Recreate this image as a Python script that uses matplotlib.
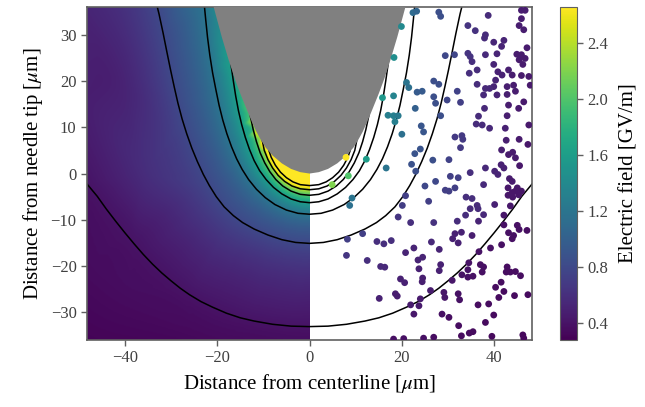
import numpy as np
import matplotlib.pyplot as plt
import matplotlib.tri as mtri

plt.rcParams['font.family'] = ['Liberation Serif', 'DejaVu Serif']
plt.rcParams['mathtext.fontset'] = 'stix'

# needle outline, right half (um)
needle_x = [0, 2, 4, 6, 8, 9.5, 10.5, 11.5, 12.5, 13.5, 15, 16.2, 17.5, 19, 20.9, 21.5]
needle_y = [0, 0.3, 1.0, 2.2, 3.9, 5.6, 7.2, 9.0, 11.2, 13.6, 17.3, 20.5, 24.5, 29.5, 36.5, 40]

# iso-field lines (right half, mirrored to the left), GV/m
levels = [2.8, 2.4, 2.0, 1.6, 1.2, 0.8, 0.4]
iso_x = [
    [0, 2, 3.6, 5.0, 6.3, 7.4, 8.3, 8.8],
    [0, 2, 3.8, 5.4, 6.8, 8.0, 9.0, 9.8, 10.4],
    [0, 2, 4, 5.8, 7.3, 8.6, 9.7, 10.7, 11.5, 12.2, 12.8, 13.2],
    [0, 2, 4, 6, 7.8, 9.4, 10.8, 12.0, 13.0, 13.9, 14.7, 15.4, 16.0, 16.5, 17.0, 17.3],
    [0, 2.5, 5, 7.5, 9.6, 11.5, 13.2, 14.6, 15.8, 16.9, 17.9, 18.8, 19.6, 20.3, 21.0, 21.6,
     22.1, 22.5, 22.8],
    [0, 3, 6, 9, 12, 14.5, 16.5, 18.5, 20.2, 21.7, 23, 24.3, 25.5, 26.6, 27.6, 28.5, 29.3,
     30.1, 30.9, 31.7, 32.6, 33.1],
    [0, 4, 8, 12, 15, 18, 21, 23.5, 26, 28, 30, 32, 34, 36, 38, 40, 42, 44, 46, 48.5],
]
iso_y = [
    [-2.6, -2.4, -1.8, -0.9, 0.3, 1.8, 3.5, 5.0],
    [-3.5, -3.3, -2.7, -1.7, -0.4, 1.2, 3.0, 5.0, 8.0],
    [-4.7, -4.5, -3.8, -2.7, -1.3, 0.4, 2.3, 4.5, 6.9, 9.5, 12.3, 14.5],
    [-6.3, -6.1, -5.5, -4.4, -3.0, -1.3, 0.6, 2.8, 5.2, 7.8, 10.6, 13.6, 16.8, 20.0, 23.5, 26.0],
    [-8.8, -8.6, -7.9, -6.7, -5.2, -3.4, -1.3, 0.9, 3.2, 5.8, 8.6, 11.6, 14.8, 18.2, 21.8, 25.6,
     29.5, 33.4, 36.5],
    [-15.1, -14.9, -14.3, -13.3, -12.0, -10.6, -9.1, -7.2, -5.0, -2.6, -0.2, 2.6, 5.5, 8.6, 11.8,
     15.2, 18.7, 22.4, 26.3, 30.3, 34.5, 36.5],
    [-33.1, -33.0, -32.6, -31.9, -31.2, -30.2, -28.9, -27.7, -26.2, -24.8, -23.2, -21.5, -19.6,
     -17.5, -15.2, -12.8, -10.3, -7.7, -4.9, -1.9],
]

# extra field estimates (needle surface, plot edges)
extra_x = [0, 4, 6.5, 8.3, 10.0, 11.6, 12.6, 14.8, 19, 20.9,
           49, 24, 0, 49, 49, 49, 40, 28, 40, 36, 40]
extra_y = [0, 1.0, 2.6, 4.1, 6.6, 9.2, 11.4, 17.5, 29.5, 36.5,
           -36.5, -36.5, -36.5, -20, 15, 36.5, 36.5, 36.5, 20, 0, -25]
extra_e = [3.8, 3.6, 3.35, 3.05, 2.85, 2.5, 2.25, 1.8, 1.45, 1.35,
           0.30, 0.33, 0.36, 0.35, 0.47, 0.52, 0.62, 1.0, 0.52, 0.58, 0.36]

# sampled points (right half)
pts_x = [22.4, 23.2, 19.9, 18.3, 21.0, 21.5, 23.3, 18.2, 15.8, 22.9, 17.0, 18.2, 19.2,
         28.0, 28.4, 45.9, 46.7, 38.7, 45.9, 34.3, 35.9, 45.4, 46.4, 38.1, 37.9, 42.1, 39.9, 41.6, 47.1,
         34.3, 34.8, 29.4, 31.4, 38.1, 40.6, 44.9, 45.9, 46.7, 45.4, 46.2, 39.9, 35.2, 36.3, 34.6, 40.8,
         41.7, 43.1, 43.9, 45.9, 47.5, 47.8, 26.9, 28.0, 36.3, 40.3, 39.9, 38.1, 39.0, 42.8, 44.2, 44.6,
         24.4, 32.0, 26.9, 27.3, 29.8, 32.7, 37.7, 40.6, 42.8, 43.1, 46.4, 45.3, 37.9, 36.6, 42.8, 28.4,
         18.5, 20.0, 7.9, 12.3, 16.6, 22.8, 22.1, 23.0, 8.4, 4.9, 9.2, 8.7, 20.8, 20.1, 19.2, 21.9,
         24.2, 24.7, 36.1, 37.4, 39.0, 42.4, 47.5, 31.5, 33.0, 33.2, 32.7, 42.6, 45.4, 47.3, 24.0, 41.6,
         43.1, 44.0, 44.6, 45.5, 26.7, 30.2, 38.1, 40.1, 40.8, 41.5, 42.1, 34.8, 30.5, 32.2, 27.3, 25.0,
         43.3, 43.9, 37.7, 31.5, 30.2, 29.4, 43.0, 43.9, 44.6, 45.3, 43.0, 44.0, 45.0, 45.9, 25.8, 33.9,
         35.2, 36.3, 34.8, 36.5, 40.1, 33.8, 37.7, 42.1, 43.5, 32.0, 26.9, 36.6, 42.1, 45.0,
         11.5, 8.2, 8.0, 14.6, 16.1, 17.7, 12.5, 15.4, 16.3, 20.8, 22.6, 23.5, 23.7, 19.7, 20.6, 18.6,
         19.0, 15.1, 21.9, 23.7, 22.6, 18.2, 20.4,
         31.5, 32.9, 31.0, 32.2, 35.2, 43.1, 44.2, 43.9, 45.4, 47.1, 26.4, 28.1, 39.2, 41.6, 36.7, 24.5,
         28.4, 28.1, 24.5, 24.4, 34.5, 33.0, 34.3, 35.4, 34.3, 37.0, 37.7, 37.4, 42.8, 42.6, 43.5, 44.6,
         45.7, 30.9, 40.3, 41.5, 26.2, 29.1, 29.3, 32.2, 32.5, 42.1, 41.0, 44.4, 47.3, 24.0, 36.5, 38.8,
         28.7, 30.2, 39.9, 38.1, 32.3, 34.6, 35.4, 32.9, 39.5, 46.2, 46.4, 24.7, 26.9]
pts_y = [34.8, 35.1, 31.8, 25.1, 19.7, 18.6, 17.6, 16.8, 16.4, 14.1, 12.6, 12.5, 12.5,
         34.9, 34.0, 35.3, 35.3, 34.2, 33.5, 32.0, 30.9, 32.0, 31.1, 30.0, 29.3, 28.8, 28.4, 27.5, 27.2,
         26.0, 25.3, 25.5, 25.7, 25.7, 25.9, 25.8, 25.7, 24.9, 24.6, 23.6, 23.6, 24.2, 22.4, 21.7, 22.0,
         21.3, 22.4, 21.3, 21.2, 21.0, 19.1, 20.0, 19.3, 19.3, 20.2, 18.8, 18.4, 18.4, 18.8, 19.1, 17.8,
         17.8, 17.8, 16.6, 15.2, 15.9, 15.4, 17.0, 17.0, 17.1, 14.8, 15.5, 14.1, 14.1, 12.4, 12.5, 12.5,
         11.2, 8.5, 3.5, 3.1, 1.2, 4.3, 2.0, 0.5, -0.5, -2.4, -5.3, -6.9, -4.8, -6.9, -9.4, -10.6,
         10.3, 9.0, 10.7, 10.5, 9.8, 9.8, 10.5, 7.9, 8.2, 7.4, 5.6, 7.2, 7.4, 6.3, 5.3, 5.1,
         4.1, 4.6, 3.4, 1.7, 2.9, 3.0, 1.2, 0.5, -0.2, 1.9, 1.2, 0.2, -0.6, -0.9, -1.7, -2.7,
         -1.1, -1.7, -2.4, -3.1, -3.8, -3.6, -3.1, -4.1, -3.8, -4.6, -4.7, -5.1, -3.1, -3.8, -6.0, -5.1,
         -5.4, -6.9, -7.6, -7.6, -6.7, -9.0, -8.9, -9.0, -7.0, -10.3, -10.6, -10.3, -11.1, -11.2,
         -13.0, -14.2, -17.7, -14.7, -15.2, -14.5, -18.8, -20.1, -20.25, -17.1, -16.1, -18.7, -20.6, -22.8, -23.6, -26.0,
         -26.5, -27.0, -28.4, -28.6, -30.4, -35.8, -35.7,
         -13.0, -12.7, -14.1, -15.0, -13.4, -12.8, -13.4, -14.1, -12.1, -12.3, -14.8, -16.4, -16.1, -15.4, -16.9, -18.1,
         -19.7, -21.0, -22.6, -23.4, -19.3, -21.9, -22.4, -22.2, -20.8, -19.7, -20.2, -21.3, -20.2, -21.3, -21.3, -21.2,
         -22.1, -23.1, -24.6, -23.5, -25.3, -25.7, -26.8, -26.0, -27.3, -25.5, -26.8, -26.4, -26.2, -27.1, -28.4, -28.2,
         -30.4, -31.1, -30.6, -32.2, -32.9, -34.5, -34.2, -35.1, -35.2, -34.9, -35.6, -35.6, -35.4]
pts_e = [1.1, 1.05, 1.4, 1.45, 1.2, 1.15, 0.95, 1.35, 1.55, 1.0, 1.3, 1.3, 1.25,
         0.85, 0.85, 0.47, 0.47, 0.57, 0.47, 0.64, 0.62, 0.47, 0.47, 0.57, 0.57, 0.52, 0.54, 0.52, 0.46,
         0.64, 0.64, 0.8, 0.78, 0.56, 0.53, 0.46, 0.46, 0.46, 0.46, 0.46, 0.53, 0.6, 0.58, 0.6, 0.5,
         0.5, 0.48, 0.47, 0.45, 0.44, 0.44, 0.85, 0.85, 0.58, 0.52, 0.52, 0.55, 0.55, 0.48, 0.47, 0.47,
         0.95, 0.75, 0.85, 0.85, 0.78, 0.72, 0.55, 0.52, 0.48, 0.47, 0.44, 0.45, 0.55, 0.57, 0.48, 0.85,
         1.3, 1.15, 2.7, 1.6, 1.2, 0.9, 0.88, 0.85, 2.0, 2.2, 1.2, 1.15, 0.72, 0.7, 0.65, 0.6,
         0.92, 0.92, 0.57, 0.57, 0.55, 0.5, 0.44, 0.68, 0.68, 0.68, 0.68, 0.48, 0.45, 0.43, 0.9, 0.48,
         0.45, 0.45, 0.45, 0.43, 0.85, 0.75, 0.55, 0.52, 0.52, 0.5, 0.5, 0.6, 0.72, 0.72, 0.8, 0.8,
         0.45, 0.45, 0.56, 0.72, 0.72, 0.72, 0.43, 0.42, 0.42, 0.42, 0.42, 0.42, 0.43, 0.42, 0.72, 0.6,
         0.6, 0.57, 0.57, 0.57, 0.5, 0.58, 0.55, 0.42, 0.43, 0.58, 0.62, 0.52, 0.39, 0.38,
         0.72, 0.72, 0.65, 0.6, 0.6, 0.6, 0.6, 0.55, 0.55, 0.52, 0.52, 0.52, 0.5, 0.5, 0.5, 0.47,
         0.47, 0.5, 0.45, 0.44, 0.43, 0.38, 0.38,
         0.5, 0.5, 0.5, 0.5, 0.47, 0.38, 0.38, 0.38, 0.38, 0.37, 0.55, 0.52, 0.39, 0.38, 0.4, 0.52,
         0.5, 0.5, 0.48, 0.48, 0.4, 0.4, 0.39, 0.39, 0.4, 0.38, 0.38, 0.38, 0.36, 0.36, 0.36, 0.36,
         0.36, 0.42, 0.36, 0.36, 0.46, 0.42, 0.42, 0.39, 0.39, 0.35, 0.35, 0.35, 0.35, 0.45, 0.36, 0.36,
         0.38, 0.37, 0.35, 0.35, 0.36, 0.35, 0.35, 0.35, 0.34, 0.33, 0.33, 0.38, 0.37]

vmin, vmax = 0.28, 2.66

# gather field samples, mirrored about the centerline
sx, sy, se = [], [], []
for xs, ys, lev in zip(iso_x, iso_y, levels):
    sx += xs
    sy += ys
    se += [lev] * len(xs)
sx += extra_x
sy += extra_y
sx, sy = np.array(sx, float), np.array(sy, float)
se = np.array(se + extra_e, float)
right = sx > 0
sx = np.r_[sx, -sx[right]]
sy = np.r_[sy, sy[right]]
se = np.r_[se, se[right]]

tri = mtri.Triangulation(sx, sy)
interp = mtri.CubicTriInterpolator(tri, se, kind='geom')
gx, gy = np.meshgrid(np.linspace(-48.5, 0, 300), np.linspace(-36.5, 36.5, 450))
field = interp(gx, gy)

fig = plt.figure(figsize=(6.45, 4.07), dpi=100)
ax = fig.add_axes([0.1349, 0.1646, 0.690, 0.818])
cax = fig.add_axes([0.868, 0.1646, 0.026, 0.818])

im = ax.imshow(field, extent=(-48.5, 0, -36.5, 36.5), origin='lower', cmap='viridis',
               vmin=vmin, vmax=vmax, aspect='auto', interpolation='bilinear', zorder=0)

for xs, ys in zip(iso_x, iso_y):
    xs = np.array(xs, float)
    ys = np.array(ys, float)
    ax.plot(np.r_[-xs[::-1], xs[1:]], np.r_[ys[::-1], ys[1:]], color='k', lw=1.1, zorder=2)

nx = np.array(needle_x, float)
ny = np.array(needle_y, float)
ax.fill(np.r_[-nx[::-1], nx[1:]], np.r_[ny[::-1], ny[1:]], color='#808080', lw=0, zorder=3)

ax.scatter(pts_x, pts_y, c=pts_e, cmap='viridis', vmin=vmin, vmax=vmax, s=24,
           edgecolors='none', zorder=4)

ax.set_xlim(-48.2, 48.2)
ax.set_ylim(-36, 36)
ax.set_xticks([-40, -20, 0, 20, 40])
ax.set_yticks([-30, -20, -10, 0, 10, 20, 30])
ax.set_xlabel(r'Distance from centerline [$\mu$m]', fontsize=15)
ax.set_ylabel(r'Distance from needle tip [$\mu$m]', fontsize=15)
for a in (ax, cax):
    for s in a.spines.values():
        s.set_color('#606060')
        s.set_linewidth(1.2)
    a.tick_params(labelsize=12, colors='#606060', labelcolor='#404040', length=4, width=1)

cb = fig.colorbar(im, cax=cax, ticks=[0.4, 0.8, 1.2, 1.6, 2.0, 2.4])
cb.ax.set_yticklabels(['0.4', '0.8', '1.2', '1.6', '2.0', '2.4'])
cb.set_label('Electric field [GV/m]', fontsize=15, labelpad=8)
cb.outline.set_edgecolor('#606060')

fig.savefig('out.png', dpi=100)
